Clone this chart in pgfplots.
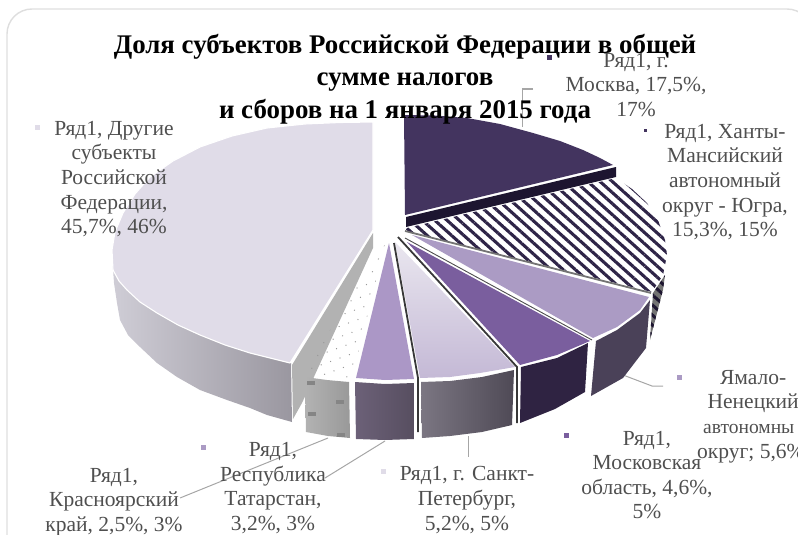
\documentclass[border=0pt]{standalone}
\usepackage{fontspec}
\setmainfont{Liberation Serif}
\usepackage{pgfplots}
\pgfplotsset{compat=1.18}
\usetikzlibrary{patterns.meta}
\definecolor{txt}{HTML}{4F4F4F}
\definecolor{lead}{HTML}{A6A6A6}
\definecolor{moscowtop}{HTML}{43345F}
\definecolor{moscowside}{HTML}{1D1530}
\definecolor{hatch}{HTML}{2E2447}
\definecolor{yamal}{HTML}{AB9BC4}
\definecolor{obl}{HTML}{7A5E9E}
\definecolor{oblside}{HTML}{2F2342}
\definecolor{tat}{HTML}{AB97C6}
\definecolor{other}{HTML}{E0DCE8}
\definecolor{HTMLsideL}{HTML}{CFCDD6}
\definecolor{HTMLsideR}{HTML}{9A97A0}
\definecolor{TatL}{HTML}{6C6178}
\definecolor{TatR}{HTML}{574E60}
\definecolor{StL}{HTML}{7B7682}
\definecolor{StR}{HTML}{4F4A56}
\definecolor{YamS}{HTML}{4A4158}
\tikzset{lbl/.style={font=\fontsize{21.5}{24.6}\selectfont,text=txt,align=center,inner sep=0pt}}
\begin{document}
\begin{tikzpicture}
\path[use as bounding box] (0,0) rectangle (798pt,535pt);
\clip (0,0) rectangle (798pt,535pt);
\begin{axis}[at={(0,0)},anchor=south west,scale only axis,width=798pt,height=535pt,
  xmin=0,xmax=798,ymin=0,ymax=535,y dir=reverse,hide axis,clip=false]
% chart frame
\draw[color=black!13,line width=1.4pt,rounded corners=25pt] (axis cs:7,560) -- (axis cs:7,9) -- (axis cs:812,9) -- (axis cs:812,560);
% leader lines
\addplot[lead,line width=1pt] coordinates {(533,89) (522,89) (522,127)};
\addplot[lead,line width=1pt] coordinates {(663,386) (652,386) (623,375)};
\addplot[lead,line width=1pt] coordinates {(468,436) (468,457)};
\addplot[lead,line width=1pt] coordinates {(385,441) (325,478)};
\addplot[lead,line width=1pt] coordinates {(328,438) (180,498)};
% H: other regions, side
\addplot[draw=none,left color=HTMLsideL,right color=HTMLsideR] coordinates {(112,255) (113,270) (119,281) (127,290) (140,302) (157,313) (178,325) (200,335) (225,345) (250,353) (270,358) (291,363) (292,422) (267,415) (250,408) (227,400) (200,390) (177,377) (157,363) (140,347) (128,335) (120,320) (117,303) (114,283)} -- cycle;
\addplot[draw=none,fill=black!30] coordinates {(373,233) (373,248) (302,403) (293,419) (292,365)} -- cycle;
% H: top
\addplot[draw=white,line width=1.1pt,fill=other] coordinates {(373,122) (340,122.5) (305,124) (267,128) (232,136) (200,147) (173,161) (150,177) (135,194) (123,213) (115,232) (112,250) (113,270) (119,281) (127,290) (140,302) (157,313) (178,325) (200,335) (225,345) (250,353) (270,358) (290,363) (373,230)} -- cycle;
% G: Krasnoyarsk
\addplot[draw=none,pattern={Dots[radius=0.7pt,distance=10pt,angle=20]},pattern color=black!40] coordinates {(386,241) (352,378) (330,376) (303,373)} -- cycle;
\addplot[draw=none,left color=black!30,right color=black!40] coordinates {(305,377) (327,380) (349,382) (350,438) (328,436) (306,432)} -- cycle;
\addplot[only marks,mark=square*,mark size=1.4pt,color=black!48,mark options={xscale=2.4,draw=none}] coordinates {(311,383) (340,402) (312,414) (341,435)};
% F: Tatarstan
\addplot[draw=none,left color=TatL,right color=TatR] coordinates {(355,382) (385,384) (414,383) (414,439) (385,440) (356,439)} -- cycle;
\addplot[draw=none,fill=tat] coordinates {(389,243) (414,379) (385,380) (356,378)} -- cycle;
% E: St Petersburg
\addplot[draw=none,left color=StL,right color=StR] coordinates {(421,382) (450,381) (482,377) (514,370) (512,425) (482,432) (450,436) (422,438)} -- cycle;
\addplot[draw=none,top color=other!70!white,bottom color=yamal!70!white] coordinates {(395,242) (515,367) (480,373) (450,377) (420,378)} -- cycle;
\addplot[color=black!78,line width=1.8pt] coordinates {(394,243) (418,378) (418,432)};
\addplot[color=black!78,line width=1.8pt] coordinates {(398,237) (517,367) (517,423)};
% D: Moscow oblast
\addplot[draw=none,fill=oblside] coordinates {(521,367) (557,358) (588,343) (585,392) (555,409) (520,423)} -- cycle;
\addplot[draw=none,fill=obl] coordinates {(407,242) (590,341) (557,355) (520,365)} -- cycle;
% C: Yamal
\addplot[draw=none,fill=YamS] coordinates {(650,300) (640,313) (617,330) (596,341) (591,396) (623,378) (646,348)} -- cycle;
\addplot[draw=none,fill=yamal] coordinates {(412,235) (649,297) (640,310) (617,327) (593,338)} -- cycle;
\addplot[color=black!70,line width=0.9pt] coordinates {(405,238) (592,340)};
% B: Khanty hatch
\addplot[draw=none,fill=black!55] coordinates {(653,293) (665,275) (663,290) (650,340)} -- cycle;
\addplot[draw=none,pattern={Lines[angle=-42,distance=7.5pt,line width=3pt]},pattern color=moscowside] coordinates {(653,293) (665,275) (663,290) (650,340)} -- cycle;
\addplot[draw=none,pattern={Lines[angle=-42,distance=8.2pt,line width=3.1pt]},pattern color=hatch] coordinates {(407,228) (616,178) (632,189) (647,203) (658,220) (665,240) (667,255) (663,275) (652,292) (405,231)} -- cycle;
\addplot[color=black!55,line width=1.8pt] coordinates {(405,231) (651,293)};
% A: Moscow
\addplot[draw=none,fill=moscowside] coordinates {(406,217) (616,167) (616,177) (406,227)} -- cycle;
\addplot[draw=none,fill=moscowtop] coordinates {(404,115) (435,115.5) (467,118) (500,124) (533,133) (560,141) (583,150) (600,158) (613,165) (405,215)} -- cycle;
% legend keys
\addplot[only marks,mark=square*,mark size=2.2pt,color=other] coordinates {(37,127) (383,471)};
\addplot[only marks,mark=square*,mark size=2.2pt,color=moscowtop] coordinates {(549,57)};
\addplot[only marks,mark=square*,mark size=0.7pt,color=moscowtop] coordinates {(645,130)};
\addplot[only marks,mark=square*,mark size=2.2pt,color=yamal] coordinates {(679,377) (203,447)};
\addplot[only marks,mark=square*,mark size=2.2pt,color=obl] coordinates {(566,435)};
% labels
\node[lbl] at (axis cs:114,179) {Ряд1, Другие\\субъекты\\Российской\\Федерации,\\45,7\%, 46\%};
\node[lbl] at (axis cs:636,85) {Ряд1, г.\\Москва, 17,5\%,\\17\%};
\node[lbl] at (axis cs:725,182) {Ряд1, Ханты-\\Мансийский\\автономный\\округ - Югра,\\15,3\%, 15\%};
\node[lbl,anchor=north west] at (axis cs:697,370) {\makebox[112pt]{Ямало-}\\\makebox[112pt]{Ненецкий}\\\makebox[100pt][l]{\fontsize{19.5}{24.6}\selectfont автономны}\\\makebox[112pt][l]{округ; 5,6\%}};
\node[lbl] at (axis cs:647,475) {Ряд1,\\Московская\\область, 4,6\%,\\5\%};
\node[lbl] at (axis cs:467,500) {Ряд1, г. Санкт-\\Петербург,\\5,2\%, 5\%};
\node[lbl] at (axis cs:273,488) {Ряд1,\\Республика\\Татарстан,\\3,2\%, 3\%};
\node[lbl] at (axis cs:114,502) {Ряд1,\\Красноярский\\край, 2,5\%, 3\%};
% title
\node[font=\fontsize{26.9}{32.5}\selectfont\bfseries,align=center,inner sep=0pt,text=black] at (axis cs:405,79) {Доля субъектов Российской Федерации в общей\\сумме налогов\\и сборов на 1 января 2015 года};
\end{axis}
\end{tikzpicture}
\end{document}
